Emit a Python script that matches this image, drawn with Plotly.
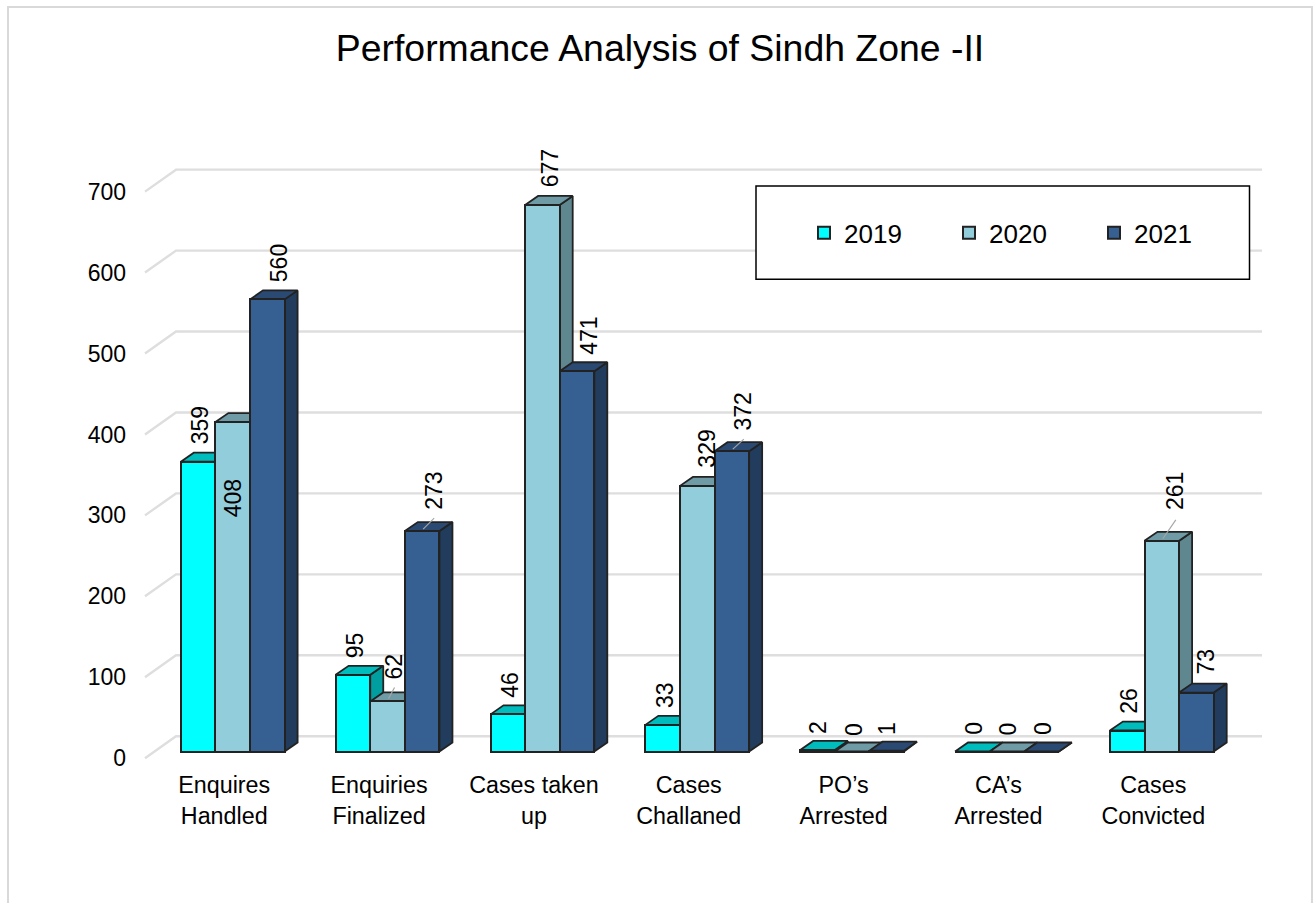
import plotly.graph_objects as go

categories = ["Enquires<br>Handled", "Enquiries<br>Finalized", "Cases taken<br>up", "Cases<br>Challaned",
              "PO’s<br>Arrested", "CA’s<br>Arrested", "Cases<br>Convicted"]
years = ["2019", "2020", "2021"]
values_2019 = [359, 95, 46, 33, 2, 0, 26]
values_2020 = [408, 62, 677, 329, 0, 0, 261]
values_2021 = [560, 273, 471, 372, 1, 0, 73]
y_ticks = [0, 100, 200, 300, 400, 500, 600, 700]

front_colors = ["#00FFFF", "#92CDDC", "#366092"]
side_colors = ["#009E9E", "#5F8790", "#213C5C"]
top_colors = ["#00BDBD", "#6E9BA6", "#2A4A73"]
edge = "#222222"
grid = "#dedede"
FONT = "Liberation Sans"

# pixel geometry of the drawing
W, H = 1314, 903
L, R, T, B = 130, 1270, 100, 769.5
GROUP_PX = 154.85
X0_PX = 232.7
Y0_PX = 752.0
PX_PER_UNIT = 0.808
WALL_PX_PER_UNIT = 0.81
WALL_Y0_PX = 758.7
BAR_PX = 34.6
DEPTH = (13.0, 9.0)

def dx(px): return px / GROUP_PX
def dy(px): return px / PX_PER_UNIT
def xpx(p): return (p - X0_PX) / GROUP_PX
def ypx(p): return (Y0_PX - p) / PX_PER_UNIT
def wall(v): return ypx(WALL_Y0_PX - WALL_PX_PER_UNIT * v)
def paperx(p): return (p - L) / (R - L)
def papery(p): return (B - p) / (B - T)

series = [values_2019, values_2020, values_2021]
idx = list(range(len(categories)))
bw = dx(BAR_PX)
ddx, ddy = dx(DEPTH[0]), dy(DEPTH[1])

fig = go.Figure()

# back-wall gridlines
gx, gy = [], []
for t in y_ticks:
    gx += [xpx(145), xpx(176), xpx(1262), None]
    gy += [wall(t), wall(t) + dy(22), wall(t) + dy(22), None]
fig.add_trace(go.Scatter(x=gx, y=gy, mode="lines", line=dict(color=grid, width=2.4),
                         showlegend=False, hoverinfo="skip", zorder=-1))

for s, (name, vals) in enumerate(zip(years, series)):
    centres = [i + (s - 1) * bw for i in idx]
    sx, sy, tx, ty = [], [], [], []
    for c, v in zip(centres, vals):
        r, l = c + bw / 2, c - bw / 2
        sx += [r, r + ddx, r + ddx, r, r, None]
        sy += [0, ddy, v + ddy, v, 0, None]
        tx += [l, l + ddx, r + ddx, r, l, None]
        ty += [v, v + ddy, v + ddy, v, v, None]
    fig.add_trace(go.Scatter(x=sx, y=sy, mode="lines", fill="toself", fillcolor=side_colors[s],
                             line=dict(color=edge, width=1.8), showlegend=False, hoverinfo="skip", zorder=3 * s))
    fig.add_trace(go.Scatter(x=tx, y=ty, mode="lines", fill="toself", fillcolor=top_colors[s],
                             line=dict(color=edge, width=1.8), showlegend=False, hoverinfo="skip", zorder=3 * s + 1))
    fig.add_trace(go.Bar(x=centres, y=vals, width=bw, name=name,
                         marker=dict(color=front_colors[s], line=dict(color=edge, width=2)),
                         zorder=3 * s + 2))

# data label offsets from each bar's top-centre, in pixels
label_dx = [[1.5, 1.5, 2.5, 2.5, 0.5, 1, 1], [0.5, 6.5, 8, 9.5, 1.5, 1, 12.5], [12, 11.5, 12.5, 11.5, 0.5, 1, 9.5]]
label_up = [[36, 30, 30, 30, 22, 23, 30], [-76, 35, 37, 37, 22, 23, 50], [36.5, 40, 35, 40, 22, 23, 31]]
for s, vals in enumerate(series):
    for i, v in enumerate(vals):
        fig.add_annotation(x=i + (s - 1) * bw, y=v, xref="x", yref="y", text=str(v), showarrow=False,
                           textangle=-90, xshift=label_dx[s][i], yshift=label_up[s][i],
                           font=dict(family=FONT, size=23, color="#000000"))

# leader lines: (series, category, start/end offsets in pixels)
leaders = [(1, 1, 1, 3, 7, 14), (2, 1, 1, 2, 12, 13), (2, 3, 1, 2, 12, 12), (1, 6, 1, 2, 14, 21)]
lx, ly = [], []
for s, i, x1, y1, x2, y2 in leaders:
    c, v = i + (s - 1) * bw, series[s][i]
    lx += [c + dx(x1), c + dx(x2), None]
    ly += [v + dy(y1), v + dy(y2), None]
fig.add_trace(go.Scatter(x=lx, y=ly, mode="lines", line=dict(color="#a6a6a6", width=1.2),
                         showlegend=False, hoverinfo="skip", zorder=20))

fig.update_layout(
    width=W, height=H, autosize=False,
    margin=dict(l=L, r=W - R, t=T, b=H - B, pad=0),
    paper_bgcolor="white", plot_bgcolor="white", barmode="overlay", bargap=0,
    title=dict(text="Performance Analysis of Sindh Zone -II", x=660 / W, xref="container", xanchor="center",
               y=1 - 48 / H, yref="container", yanchor="middle", font=dict(family=FONT, size=37.4, color="#000000")),
    font=dict(family=FONT, color="#000000"),
    xaxis=dict(range=[xpx(L), xpx(R)], tickmode="array", tickvals=[i - dx(8.5) for i in idx], ticktext=categories,
               showgrid=False, zeroline=False, showline=False, ticks="", tickangle=0,
               tickfont=dict(family=FONT, size=23.3, color="#000000")),
    yaxis=dict(range=[ypx(B), ypx(T)], tickmode="array", tickvals=[wall(t) for t in y_ticks],
               ticktext=[str(t) for t in y_ticks], showgrid=False, zeroline=False, showline=False, ticks="",
               ticklabelstandoff=3, tickfont=dict(family=FONT, size=23, color="#000000")),
    legend=dict(orientation="h", x=paperx(804), y=papery(233), xanchor="left", yanchor="middle",
                bgcolor="rgba(0,0,0,0)", borderwidth=0, font=dict(family=FONT, size=26, color="#000000"),
                entrywidth=100, entrywidthmode="pixels", itemwidth=30, traceorder="normal"),
    shapes=[
        dict(type="rect", xref="paper", yref="paper", x0=paperx(756), x1=paperx(1249.5), y0=papery(186), y1=papery(279.5),
             line=dict(color="#000000", width=1.5), fillcolor="white", layer="above"),
        dict(type="rect", xref="paper", yref="paper", x0=paperx(8), x1=paperx(1312), y0=papery(7), y1=papery(915),
             line=dict(color="#d9d9d9", width=2), fillcolor="rgba(0,0,0,0)", layer="below"),
    ],
)

fig.write_html("out.html", config={"displayModeBar": False},
               post_script="document.body.style.margin='0';document.documentElement.style.overflow='hidden';")
